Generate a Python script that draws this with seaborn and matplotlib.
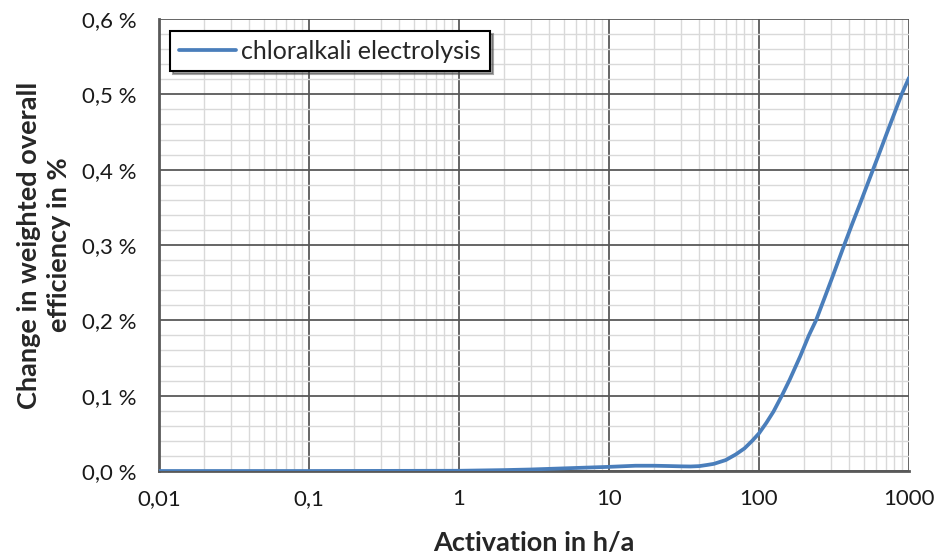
import matplotlib
matplotlib.use("Agg")
import matplotlib.pyplot as plt
import matplotlib.ticker as mticker
import seaborn as sns
import pandas as pd

activation = [0.01, 0.1, 1, 2, 3, 5, 10, 15, 20, 25, 30, 35, 40, 45, 50, 60,
              70, 80, 90, 100, 112, 125, 142, 160, 188, 215, 240, 275, 312,
              370, 420, 470, 520, 573, 640, 704, 800, 893, 1000]
efficiency = [0.0, 0.0, 0.0003, 0.0012, 0.002, 0.0035, 0.0055, 0.007, 0.007,
              0.0066, 0.0062, 0.006, 0.0065, 0.008, 0.0095, 0.0145, 0.022,
              0.030, 0.040, 0.050, 0.064, 0.079, 0.100, 0.121, 0.152, 0.180,
              0.200, 0.231, 0.260, 0.300, 0.329, 0.354, 0.377, 0.399, 0.424,
              0.446, 0.475, 0.500, 0.522]
series_name = "chloralkali electrolysis"
x_ticks = [0.01, 0.1, 1, 10, 100, 1000]
x_ticklabels = ["0,01", "0,1", "1", "10", "100", "1000"]
y_ticks = [0.0, 0.1, 0.2, 0.3, 0.4, 0.5, 0.6]

df = pd.DataFrame({"Activation": activation, "Efficiency": efficiency,
                   "Series": series_name})

sns.set_style("white")
plt.rcParams["font.family"] = ["Lato", "DejaVu Sans"]

fig = plt.figure(figsize=(9.37, 5.6), dpi=100)
ax = fig.add_axes([159 / 937, 1 - 471 / 560, 750 / 937, 452 / 560])

sns.lineplot(data=df, x="Activation", y="Efficiency", hue="Series",
             palette=["#4A7EBB"], linewidth=2.7, ax=ax, zorder=5)

ax.set_xscale("log")
ax.set_xlim(0.01, 1000)
ax.set_ylim(0, 0.6)
ax.set_xticks(x_ticks)
ax.set_xticklabels(x_ticklabels)
ax.xaxis.set_minor_locator(mticker.LogLocator(base=10, subs=range(2, 10)))
ax.xaxis.set_minor_formatter(mticker.NullFormatter())
ax.set_yticks(y_ticks)
ax.yaxis.set_major_formatter(mticker.FuncFormatter(lambda v, p: f"{v:.1f} %".replace(".", ",")))
ax.yaxis.set_minor_locator(mticker.MultipleLocator(0.02))

ax.grid(which="minor", color="#d9d9d9", linewidth=1.0, zorder=0)
ax.grid(which="major", color="#595959", linewidth=1.3, zorder=1)
ax.set_axisbelow(True)

for s in ["top", "right"]:
    ax.spines[s].set_visible(False)
for s in ["left", "bottom"]:
    ax.spines[s].set_color("#595959")
    ax.spines[s].set_linewidth(2)

ax.tick_params(axis="both", which="major", direction="out", length=5,
               width=2, color="#595959", labelsize=16, labelcolor="#1a1a1a")
ax.tick_params(axis="both", which="minor", length=0)
ax.tick_params(axis="x", pad=8)
ax.tick_params(axis="y", pad=11)

ax.set_xlabel("Activation in h/a", fontsize=19.5, fontweight="bold", labelpad=16)
ax.set_ylabel("Change in weighted overall\nefficiency in %", fontsize=19.5,
              fontweight="bold", labelpad=8, linespacing=1.3)

leg = ax.legend(loc="upper left", bbox_to_anchor=(0.0147, 0.974), fontsize=18,
                frameon=True, fancybox=False, shadow=True, handlelength=2.3,
                handletextpad=0.2, borderpad=0.35, borderaxespad=0, title=None)
leg.get_frame().set_edgecolor("black")
leg.get_frame().set_linewidth(1.5)
leg.set_zorder(10)

fig.savefig("out.png", dpi=100)
